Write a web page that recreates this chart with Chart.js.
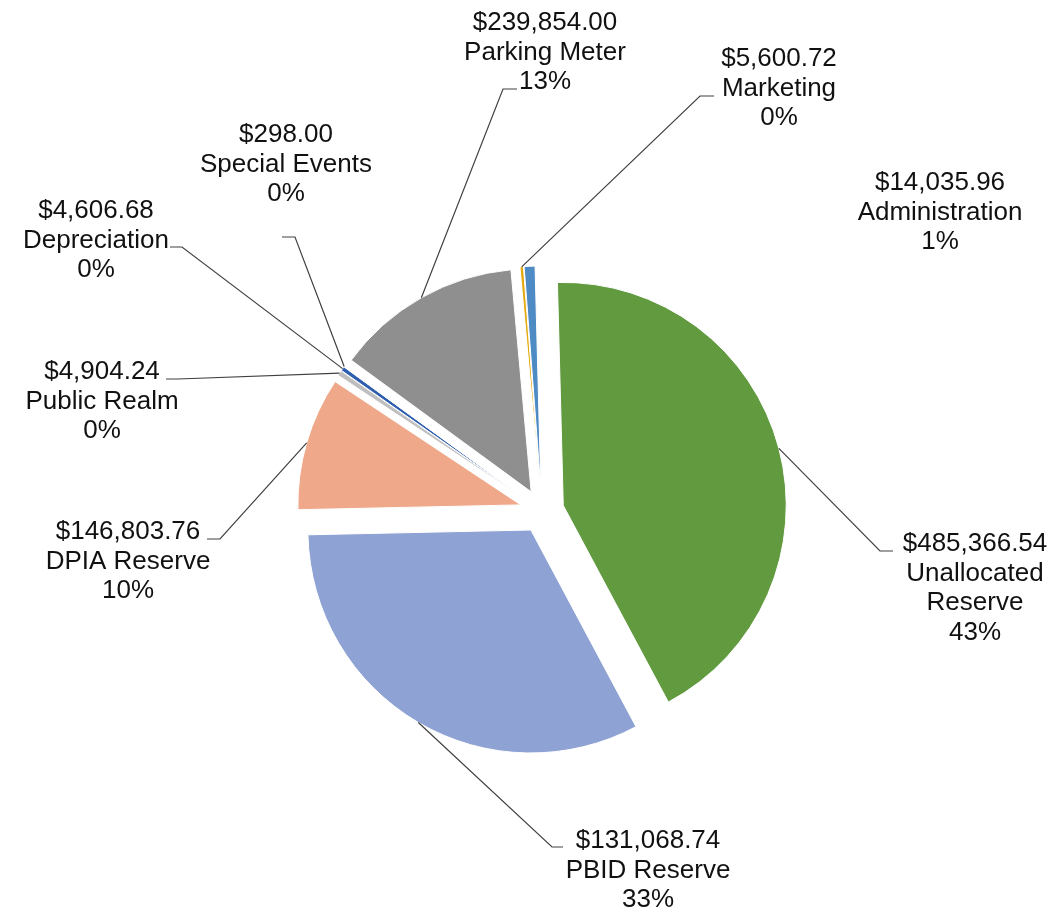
<!DOCTYPE html>
<html>
<head>
<meta charset="utf-8">
<title>Budget Allocation</title>
<script src="https://cdn.jsdelivr.net/npm/chart.js@4.4.1/dist/chart.umd.min.js"></script>
<style>
  html, body { margin: 0; padding: 0; background: #fff; }
  #wrap { width: 1058px; height: 912px; }
</style>
</head>
<body>
<div id="wrap"><canvas id="budgetChart" width="1058" height="912"></canvas></div>
<script>
// slices in clockwise order, starting just left of 12 o'clock
const categories = [
    ['Unallocated', 'Reserve'],
    ['PBID Reserve'],
    ['DPIA Reserve'],
    ['Public Realm'],
    ['Depreciation'],
    ['Special Events'],
    ['Parking Meter'],
    ['Marketing'],
    ['Administration']
];
const amounts = [485366.54, 131068.74, 146803.76, 4904.24, 4606.68, 298.00, 239854.00, 5600.72, 14035.96];
const percentLabels = [43, 33, 10, 0, 0, 0, 13, 0, 1];
// share of the pie as drawn
const sliceShares = [42.61, 32.47, 9.67, 0.39, 0.31, 0.03, 13.5, 0.25, 0.78];
const sliceColors = ['#619A3F', '#8EA2D4', '#F0A88B', '#BFBFBF', '#2F5EAE', '#A5A5A5', '#8F8F8F', '#E5AA10', '#4E8AC4'];

// where each label sits: centre x, baseline of first line, leader elbow and tick end
const labelLayout = [
    { x: 975, y: 551, elbow: [880, 551], end: [893, 551] },
    { x: 648, y: 848, elbow: [552, 847], end: [563, 847] },
    { x: 128, y: 539, elbow: [220, 539], end: [207, 539] },
    { x: 102, y: 379, elbow: [178, 379], end: [166, 379] },
    { x: 96,  y: 218, elbow: [182, 247], end: [170, 247] },
    { x: 286, y: 142, elbow: [295, 237], end: [282, 237] },
    { x: 545, y: 30,  elbow: [503, 89],  end: [517, 89] },
    { x: 779, y: 66,  elbow: [700, 96],  end: [714, 96] },
    { x: 940, y: 190, elbow: null, end: null }
];

const EXPLODE = 22;
const RADIUS = 223;
const LINE_H = 29.5;

function fmtMoney(v) {
    return v.toLocaleString('en-US', { style: 'currency', currency: 'USD' });
}

// push every slice out along its middle angle
const explodePlugin = {
    id: 'explode',
    beforeDatasetDraw(chart, args) {
        const ctx = chart.ctx;
        args.meta.data.forEach(arc => {
            const mid = (arc.startAngle + arc.endAngle) / 2;
            ctx.save();
            ctx.translate(Math.cos(mid) * EXPLODE, Math.sin(mid) * EXPLODE);
            arc.draw(ctx);
            ctx.restore();
        });
        return false;
    }
};

const labelPlugin = {
    id: 'sliceLabels',
    afterDatasetsDraw(chart) {
        const ctx = chart.ctx;
        const arcs = chart.getDatasetMeta(0).data;
        ctx.save();
        ctx.font = '26px "Liberation Sans", Arial, sans-serif';
        ctx.fillStyle = '#111';
        ctx.textAlign = 'center';
        ctx.textBaseline = 'alphabetic';
        ctx.strokeStyle = '#404040';
        ctx.lineWidth = 1.2;
        arcs.forEach((arc, i) => {
            const lay = labelLayout[i];
            const mid = (arc.startAngle + arc.endAngle) / 2;
            const r = arc.outerRadius + EXPLODE;
            if (lay.elbow) {
                ctx.beginPath();
                ctx.moveTo(arc.x + Math.cos(mid) * r, arc.y + Math.sin(mid) * r);
                ctx.lineTo(lay.elbow[0], lay.elbow[1]);
                ctx.lineTo(lay.end[0], lay.end[1]);
                ctx.stroke();
            }
            const lines = [fmtMoney(amounts[i]), ...categories[i], percentLabels[i] + '%'];
            lines.forEach((t, k) => ctx.fillText(t, lay.x, lay.y + k * LINE_H));
        });
        ctx.restore();
    }
};

new Chart(document.getElementById('budgetChart'), {
    type: 'pie',
    data: {
        labels: categories,
        datasets: [{
            data: sliceShares,
            backgroundColor: sliceColors,
            borderColor: '#fff',
            borderWidth: 1
        }]
    },
    options: {
        responsive: false,
        animation: false,
        events: [],
        rotation: -1.5,
        radius: RADIUS,
        layout: { padding: { left: 26, right: 0, top: 110, bottom: 0 } },
        plugins: {
            legend: { display: false },
            tooltip: { enabled: false }
        }
    },
    plugins: [explodePlugin, labelPlugin]
});
</script>
</body>
</html>
